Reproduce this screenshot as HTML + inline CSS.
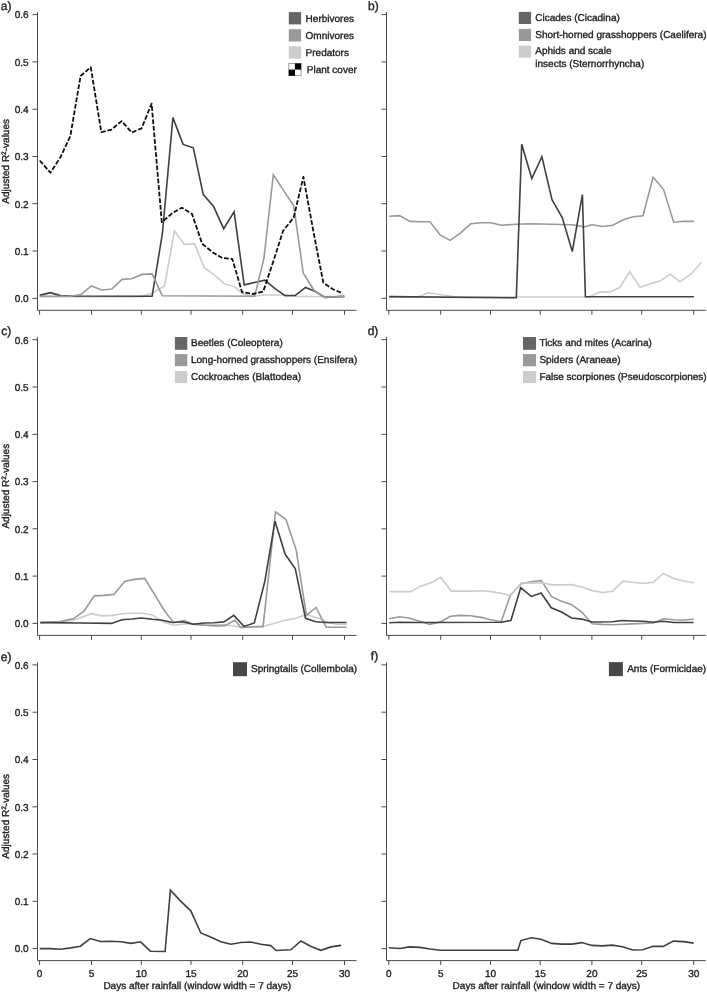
<!DOCTYPE html>
<html><head><meta charset="utf-8"><title>Figure</title>
<style>
html,body{margin:0;padding:0;background:#fff;}
body{width:707px;height:992px;overflow:hidden;}
svg{display:block;will-change:transform;filter:blur(0.25px);}
text{font-family:"Liberation Sans",sans-serif;fill:#222222;stroke:#222;stroke-width:0.35px;text-rendering:geometricPrecision;}
.t10{font-size:10px;}
.t12{font-size:12px;}
</style></head><body>
<svg width="707" height="992" viewBox="0 0 707 992">
<rect width="707" height="992" fill="#ffffff"/>
<!-- panel a -->
<g>
<g stroke="#4a4a4a" stroke-width="1" fill="none" shape-rendering="auto">
<path d="M37.5 12.1 V310.3 H356.5"/>
<path d="M32.5 298.3H37.5M32.5 251H37.5M32.5 203.7H37.5M32.5 156.5H37.5M32.5 109.2H37.5M32.5 61.9H37.5M32.5 14.6H37.5M39.6 310.3V314.7M91.5 310.3V314.7M141.3 310.3V314.7M191 310.3V314.7M242.7 310.3V314.7M292.5 310.3V314.7M344.5 310.3V314.7"/>
</g>
<text class="t10" x="28.6" y="302.1" text-anchor="end">0.0</text>
<text class="t10" x="28.6" y="254.8" text-anchor="end">0.1</text>
<text class="t10" x="28.6" y="207.5" text-anchor="end">0.2</text>
<text class="t10" x="28.6" y="160.3" text-anchor="end">0.3</text>
<text class="t10" x="28.6" y="113" text-anchor="end">0.4</text>
<text class="t10" x="28.6" y="65.7" text-anchor="end">0.5</text>
<text class="t10" x="28.6" y="18.4" text-anchor="end">0.6</text>
<text class="t10" transform="translate(8.7 161.4) rotate(-90)" text-anchor="middle">Adjusted R<tspan font-size="6.5px" dy="-3.2">2</tspan><tspan dy="3.2">-values</tspan></text>
<polyline fill="none" stroke="#cccccc" stroke-width="1.6" stroke-linejoin="miter" stroke-linecap="butt" points="39.7,296.6 141.5,296.6 151.2,293.4 164.5,286.1 174.5,230.9 184.3,244.5 194.5,243.6 204.2,267.4 214.4,275 224.5,283.9 234.4,286.6 242.9,294 253,296.3 264,295 285,295 296,296.5 344.4,296.5"/>
<polyline fill="none" stroke="#404040" stroke-width="1.6" stroke-linejoin="miter" stroke-linecap="butt" points="39.7,295.4 50.4,292.7 60.5,295.6 70.4,296 152.1,296.3 162.4,233.5 172.9,117.6 183.1,144.4 193.3,147.8 203.3,194.6 213.5,206.3 223.7,228.7 234.1,211.9 244.2,284.9 254.5,282.5 264.8,280.1 275,288.6 285.2,295.7 295.3,295.4 305.5,287.4 314.9,291.2 325,297.4 335,296.9 344.4,296.4"/>
<polyline fill="none" stroke="#999999" stroke-width="1.6" stroke-linejoin="miter" stroke-linecap="butt" points="39.7,296.3 70.4,296.3 80.9,294.5 91.4,286 101.6,290 111.8,289.1 122,279.4 131.8,278.7 141.9,274.4 152.1,273.9 162.2,295.7 254.6,296.3 264,258 273.3,174.9 283.5,190.4 293.7,205.8 303.3,273.3 314,290.3 325,297.4 344.4,296.4"/>
<polyline fill="none" stroke="#111111" stroke-width="1.8" stroke-linejoin="round" stroke-linecap="butt" stroke-dasharray="4.8 1.8" points="39.7,160.5 50.4,172.7 60.5,157.1 70.4,135.9 80.6,76 90.8,67.2 101.3,132.2 111.5,129.6 121.6,121.1 131.8,132.5 141.6,128.3 151.6,103.6 161.8,222.2 172.4,213.1 181.8,207.7 192,213.9 202.1,243.6 212.3,252.1 222.5,258.1 232.3,258.9 242,292 252.9,294 263.2,291.6 273.3,261.5 283,231 293.7,217.5 303.4,177 313.4,231.5 323.3,282.7 333.5,289.5 342.9,293.4"/>
</g>
<!-- panel b -->
<g>
<g stroke="#4a4a4a" stroke-width="1" fill="none" shape-rendering="auto">
<path d="M386.5 12.1 V310.3 H705.7"/>
<path d="M381.5 298.3H386.5M381.5 251H386.5M381.5 203.7H386.5M381.5 156.5H386.5M381.5 109.2H386.5M381.5 61.9H386.5M381.5 14.6H386.5M388.8 310.3V314.7M440.7 310.3V314.7M490.5 310.3V314.7M540.2 310.3V314.7M591.9 310.3V314.7M641.7 310.3V314.7M693.7 310.3V314.7"/>
</g>
<polyline fill="none" stroke="#cccccc" stroke-width="1.6" stroke-linejoin="miter" stroke-linecap="butt" points="389.1,297 418,297 428,292.8 456.6,297 588.9,297 600.1,291.8 610.2,292 619.9,287.3 629.7,271.6 640,287.3 650.5,283.7 660.6,280.7 670.3,274.2 680.1,281.7 690.8,274.2 701.3,262.5"/>
<polyline fill="none" stroke="#999999" stroke-width="1.6" stroke-linejoin="miter" stroke-linecap="butt" points="389.1,216.2 399.6,215.6 409.8,221.4 420,221.8 430,221.8 440.1,234.9 450.2,240.4 460.6,232.9 470.7,223.8 480.8,222.8 490.9,222.8 501.2,225.2 516.3,224.2 530.4,223.8 572.3,224.8 583.8,226.9 591.9,224.8 602.7,226.5 612.8,225.2 623.3,219.8 633,216.8 643,215.8 653.1,177.1 663.6,189.6 673.7,222.2 683.8,221.2 693.9,221.4"/>
<polyline fill="none" stroke="#404040" stroke-width="1.6" stroke-linejoin="miter" stroke-linecap="butt" points="389.1,296.6 516.3,297.8 521.7,144.2 531.8,178.5 541.9,156.7 552,199.6 562.3,217.8 572.3,251.5 582.4,194.6 585.4,296.8 693.9,296.8"/>
</g>
<!-- panel c -->
<g>
<g stroke="#4a4a4a" stroke-width="1" fill="none" shape-rendering="auto">
<path d="M37.5 337.2 V635.4 H356.5"/>
<path d="M32.5 623.4H37.5M32.5 576.1H37.5M32.5 528.8H37.5M32.5 481.6H37.5M32.5 434.3H37.5M32.5 387H37.5M32.5 339.7H37.5M39.6 635.4V639.8M91.5 635.4V639.8M141.3 635.4V639.8M191 635.4V639.8M242.7 635.4V639.8M292.5 635.4V639.8M344.5 635.4V639.8"/>
</g>
<text class="t10" x="28.6" y="627.2" text-anchor="end">0.0</text>
<text class="t10" x="28.6" y="579.9" text-anchor="end">0.1</text>
<text class="t10" x="28.6" y="532.6" text-anchor="end">0.2</text>
<text class="t10" x="28.6" y="485.4" text-anchor="end">0.3</text>
<text class="t10" x="28.6" y="438.1" text-anchor="end">0.4</text>
<text class="t10" x="28.6" y="390.8" text-anchor="end">0.5</text>
<text class="t10" x="28.6" y="343.5" text-anchor="end">0.6</text>
<text class="t10" transform="translate(8.7 486.2) rotate(-90)" text-anchor="middle">Adjusted R<tspan font-size="6.5px" dy="-3.2">2</tspan><tspan dy="3.2">-values</tspan></text>
<polyline fill="none" stroke="#cccccc" stroke-width="1.6" stroke-linejoin="miter" stroke-linecap="butt" points="40.2,622.7 72.4,620.8 91.4,613.7 102.1,615.9 112.3,615.4 122.5,613.7 132.7,613.2 143.4,613.3 152.1,614.9 163.9,622.2 174.1,625.3 184.3,623.9 194.5,623.9 204.7,624.7 225,624.7 240.2,627.3 263.1,626.4 285.2,620.2 295.3,618.5 306.4,614.6 321.6,619.3 326.7,622.2 336,624.3 346.6,624.5"/>
<polyline fill="none" stroke="#999999" stroke-width="1.6" stroke-linejoin="miter" stroke-linecap="butt" points="40.2,622.5 50.4,622 60.5,621.5 73.3,618.8 84,611.2 94.2,595.9 103.8,595.4 114,594.4 124.5,581.5 134.4,579.4 144.7,578.4 164.8,611.2 173.8,622.7 184.3,620.5 194.2,624.4 204.7,625.3 214.9,625.9 225,625.6 234.7,620.3 241.1,627.6 263.1,626.4 275.5,511.9 286,519.5 296.2,550.1 306.4,615.4 316,607.4 326.2,627.3 346.6,627.3"/>
<polyline fill="none" stroke="#404040" stroke-width="1.6" stroke-linejoin="miter" stroke-linecap="butt" points="40.2,622.6 80,623 111.5,623.4 122,619.7 131.8,619 141.5,618 152.1,619.3 162.2,620.2 172.4,622.5 182.6,621.7 193.1,624.2 203.8,623 214,622.7 223.9,621.9 233.8,615.4 244,626.4 254.3,623 264.8,581.5 275,521.2 285.2,554.3 295.3,568.7 305.5,618.3 315.7,621.7 325.9,622.5 346.6,622.5"/>
</g>
<!-- panel d -->
<g>
<g stroke="#4a4a4a" stroke-width="1" fill="none" shape-rendering="auto">
<path d="M386.5 337.2 V635.4 H705.7"/>
<path d="M381.5 623.4H386.5M381.5 576.1H386.5M381.5 528.8H386.5M381.5 481.6H386.5M381.5 434.3H386.5M381.5 387H386.5M381.5 339.7H386.5M388.8 635.4V639.8M440.7 635.4V639.8M490.5 635.4V639.8M540.2 635.4V639.8M591.9 635.4V639.8M641.7 635.4V639.8M693.7 635.4V639.8"/>
</g>
<polyline fill="none" stroke="#999999" stroke-width="1.6" stroke-linejoin="miter" stroke-linecap="butt" points="389.3,618.8 399.5,616.8 409.7,618.3 419.9,621.3 429.7,624.4 440.3,621.9 450.4,616.3 460.6,615.4 470.8,615.7 481,617.4 490.6,619.7 501.2,621.7 510.5,595 521.2,583.7 530.9,581.8 541.4,580.6 551.6,596.7 561.5,601.3 571.6,604.7 581.8,612 592,623.8 602.3,624.4 612.5,624.7 632.8,623.9 653.2,623 663.4,618.8 673.6,619.7 683.7,620 693.9,619.3"/>
<polyline fill="none" stroke="#cccccc" stroke-width="1.6" stroke-linejoin="miter" stroke-linecap="butt" points="389.8,591.6 400.4,591.6 410.5,591.6 420.7,586.2 430.9,582.7 440.8,577.6 451.3,591.1 461.5,591.1 471.6,591.1 481.8,590.8 491.1,591.6 501.2,593.3 510.5,595.6 521.2,582.8 531.8,583.2 542,582.7 552.1,584.9 562.3,584.9 571.6,584.5 581.8,587.1 592,590.6 602.6,592.5 612.5,591.3 623,581.1 632.8,582.3 643,583.5 653.2,582.3 663.4,573.5 673.6,578.4 683.7,581 693.9,582.7"/>
<polyline fill="none" stroke="#404040" stroke-width="1.6" stroke-linejoin="miter" stroke-linecap="butt" points="389.3,622.7 399.5,622.2 420,622.5 501.2,622.2 510.9,620.5 520.7,587.7 531.3,596.4 541.1,593 551.3,607.8 561.5,612 571.6,618 581.8,619.1 591.9,622 612.5,621.7 621.8,620.5 632.8,621 643,621.3 653.2,622.2 663.4,621.3 673.6,622.5 693.6,622.5"/>
</g>
<!-- panel e -->
<g>
<g stroke="#4a4a4a" stroke-width="1" fill="none" shape-rendering="auto">
<path d="M37.5 662.4 V960.6 H356.5"/>
<path d="M32.5 948.6H37.5M32.5 901.3H37.5M32.5 854H37.5M32.5 806.8H37.5M32.5 759.5H37.5M32.5 712.2H37.5M32.5 664.9H37.5M39.6 960.6V965M91.5 960.6V965M141.3 960.6V965M191 960.6V965M242.7 960.6V965M292.5 960.6V965M344.5 960.6V965"/>
</g>
<text class="t10" x="28.6" y="952.4" text-anchor="end">0.0</text>
<text class="t10" x="28.6" y="905.1" text-anchor="end">0.1</text>
<text class="t10" x="28.6" y="857.8" text-anchor="end">0.2</text>
<text class="t10" x="28.6" y="810.5" text-anchor="end">0.3</text>
<text class="t10" x="28.6" y="763.3" text-anchor="end">0.4</text>
<text class="t10" x="28.6" y="716" text-anchor="end">0.5</text>
<text class="t10" x="28.6" y="668.7" text-anchor="end">0.6</text>
<text class="t10" transform="translate(8.7 816.3) rotate(-90)" text-anchor="middle">Adjusted R<tspan font-size="6.5px" dy="-3.2">2</tspan><tspan dy="3.2">-values</tspan></text>
<text class="t10" x="39.6" y="977" text-anchor="middle">0</text>
<text class="t10" x="91.5" y="977" text-anchor="middle">5</text>
<text class="t10" x="141.3" y="977" text-anchor="middle">10</text>
<text class="t10" x="191" y="977" text-anchor="middle">15</text>
<text class="t10" x="242.7" y="977" text-anchor="middle">20</text>
<text class="t10" x="292.5" y="977" text-anchor="middle">25</text>
<text class="t10" x="344.5" y="977" text-anchor="middle">30</text>
<text class="t10" x="103.4" y="988.7">Days after rainfall (window width = 7 days)</text>
<polyline fill="none" stroke="#404040" stroke-width="1.6" stroke-linejoin="miter" stroke-linecap="butt" points="39.7,948.6 50.4,948.6 60.5,949.3 70.7,947.9 80.4,946.2 90.3,938.6 100.4,941.5 110.6,941.2 120.8,941.7 131,943.4 140.6,941.8 150.4,951.2 165.1,951.5 170.4,890.2 180.9,901.4 190.8,910.8 200.8,933 210.6,937.1 220.8,941.8 231,944.2 240.8,942.5 250.7,942 260.9,944.2 270.7,945.6 276.2,950.5 290.8,949.8 300.9,941 310.6,946.2 320.8,950.3 331,946.9 341.2,945.4"/>
</g>
<!-- panel f -->
<g>
<g stroke="#4a4a4a" stroke-width="1" fill="none" shape-rendering="auto">
<path d="M386.5 662.4 V960.6 H705.7"/>
<path d="M381.5 948.6H386.5M381.5 901.3H386.5M381.5 854H386.5M381.5 806.8H386.5M381.5 759.5H386.5M381.5 712.2H386.5M381.5 664.9H386.5M388.8 960.6V965M440.7 960.6V965M490.5 960.6V965M540.2 960.6V965M591.9 960.6V965M641.7 960.6V965M693.7 960.6V965"/>
</g>
<text class="t10" x="388.8" y="977" text-anchor="middle">0</text>
<text class="t10" x="440.7" y="977" text-anchor="middle">5</text>
<text class="t10" x="490.5" y="977" text-anchor="middle">10</text>
<text class="t10" x="540.2" y="977" text-anchor="middle">15</text>
<text class="t10" x="591.9" y="977" text-anchor="middle">20</text>
<text class="t10" x="641.7" y="977" text-anchor="middle">25</text>
<text class="t10" x="693.7" y="977" text-anchor="middle">30</text>
<text class="t10" x="452.6" y="988.7">Days after rainfall (window width = 7 days)</text>
<polyline fill="none" stroke="#404040" stroke-width="1.6" stroke-linejoin="miter" stroke-linecap="butt" points="388.8,947.7 399.5,948.5 409.6,946.9 419.8,947.4 430,949 440.4,950.2 517.8,950.2 520.9,940.6 531.3,937.8 541,939.3 551.7,943.4 561.9,944.1 572.1,944.1 581.7,942.6 591.9,945.4 602.1,945.9 612.3,945.1 622.5,946.7 632.7,950 642.8,949.7 653,946.2 663.2,946.4 673.4,941.1 683.6,941.6 693.7,943.1"/>
</g>
<text class="t12" x="0.8" y="10.2">a)</text>
<text class="t12" x="368" y="9.9">b)</text>
<text class="t12" x="1.3" y="335.3">c)</text>
<text class="t12" x="367.7" y="335.3">d)</text>
<text class="t12" x="0.8" y="660.5">e)</text>
<text class="t12" x="370.8" y="660.4">f)</text>
<rect x="288.8" y="12.1" width="12.3" height="12.3" fill="#666666"/>
<text class="t10" x="305.6" y="21.9">Herbivores</text>
<rect x="288.8" y="29.2" width="12.3" height="12.3" fill="#999999"/>
<text class="t10" x="305.6" y="39">Omnivores</text>
<rect x="288.8" y="46.3" width="12.3" height="12.3" fill="#cccccc"/>
<text class="t10" x="305.6" y="56.1">Predators</text>
<rect x="288.8" y="63.4" width="12.3" height="12.3" fill="#fff" stroke="#777" stroke-width="0.7"/><rect x="294.9" y="63.4" width="6.2" height="6.2" fill="#000"/><rect x="288.8" y="69.6" width="6.2" height="6.2" fill="#000"/>
<text class="t10" x="306.8" y="73.2">Plant cover</text>
<rect x="518.8" y="11.9" width="12.3" height="12.1" fill="#666666"/>
<rect x="518.8" y="28.9" width="12.3" height="12.1" fill="#999999"/>
<rect x="518.8" y="45.6" width="12.3" height="12.1" fill="#cccccc"/>
<text class="t10" x="535.3" y="20.5">Cicades (Cicadina)</text>
<text class="t10" x="535.3" y="37.5">Short-horned grasshoppers (Caelifera)</text>
<text class="t10" x="535.3" y="54">Aphids and scale</text>
<text class="t10" x="535.3" y="67">insects (Sternorrhyncha)</text>
<rect x="174.9" y="337" width="12.4" height="12.8" fill="#666666"/>
<text class="t10" x="191" y="345.9">Beetles (Coleoptera)</text>
<rect x="174.9" y="354.1" width="12.4" height="12.1" fill="#999999"/>
<text class="t10" x="191" y="362.8">Long-horned grasshoppers (Ensifera)</text>
<rect x="174.9" y="371" width="12.4" height="12.1" fill="#cccccc"/>
<text class="t10" x="191" y="379.6">Cockroaches (Blattodea)</text>
<rect x="523" y="337" width="13" height="12.8" fill="#666666"/>
<text class="t10" x="539.4" y="345.9">Ticks and mites (Acarina)</text>
<rect x="523" y="354.1" width="13" height="12.2" fill="#999999"/>
<text class="t10" x="539.4" y="362.9">Spiders (Araneae)</text>
<rect x="523" y="371" width="13" height="12.1" fill="#cccccc"/>
<text class="t10" x="539.4" y="379.6">False scorpiones (Pseudoscorpiones)</text>
<rect x="233" y="662.2" width="14" height="14" fill="#484848"/>
<text class="t10" x="251" y="671.8">Springtails (Collembola)</text>
<rect x="608.9" y="662.1" width="14" height="14" fill="#484848"/>
<text class="t10" x="627.2" y="671.8">Ants (Formicidae)</text>
</svg>
</body></html>
